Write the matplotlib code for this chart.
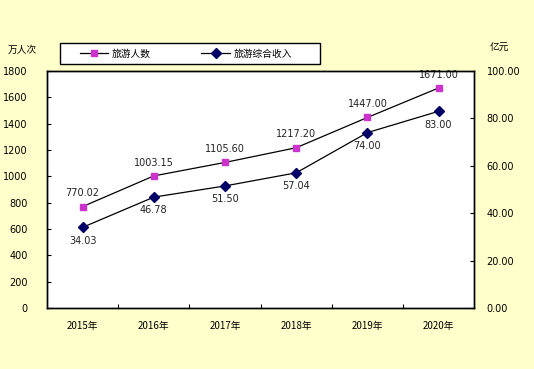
import matplotlib
matplotlib.use("Agg")
import matplotlib.pyplot as plt
from matplotlib.patches import Rectangle

plt.rcParams['font.family'] = ['DejaVu Sans', 'Noto Sans CJK SC']

years = ["2015年", "2016年", "2017年", "2018年", "2019年", "2020年"]
visitors = [770.02, 1003.15, 1105.60, 1217.20, 1447.00, 1671.00]
income = [34.03, 46.78, 51.50, 57.04, 74.00, 83.00]
visitor_labels = ["770.02", "1003.15", "1105.60", "1217.20", "1447.00", "1671.00"]
income_labels = ["34.03", "46.78", "51.50", "57.04", "74.00", "83.00"]
left_ticks = [0, 200, 400, 600, 800, 1000, 1200, 1400, 1600, 1800]
right_ticks = [0, 20, 40, 60, 80, 100]

bg = "#FFFFCC"
magenta = "#CC33CC"
navy = "#000066"
fs = 7

fig = plt.figure(figsize=(5.34, 3.69), dpi=100, facecolor=bg)
ax = fig.add_axes([0.088, 0.1653, 0.800, 0.6423])
ax2 = ax.twinx()

x = list(range(len(years)))
l1, = ax.plot(x, visitors, color="black", lw=0.9, marker="s", markersize=5,
              markerfacecolor=magenta, markeredgecolor=magenta, label="旅游人数")
l2, = ax2.plot(x, income, color="black", lw=0.9, marker="D", markersize=5,
               markerfacecolor=navy, markeredgecolor=navy, label="旅游综合收入")

for xi, v, t in zip(x, visitors, visitor_labels):
    ax.annotate(t, (xi, v), xytext=(0, 6), textcoords="offset points",
                ha="center", va="bottom", fontsize=fs, color="#222222")
for xi, v, t in zip(x, income, income_labels):
    ax2.annotate(t, (xi, v), xytext=(0, -6), textcoords="offset points",
                 ha="center", va="top", fontsize=fs, color="#222222")

ax.set_xlim(-0.5, len(years) - 0.5)
ax.set_ylim(0, 1800)
ax2.set_ylim(0, 100)
ax.set_yticks(left_ticks)
ax.set_yticklabels([str(t) for t in left_ticks])
ax2.set_yticks(right_ticks)
ax2.set_yticklabels([f"{t:.2f}" for t in right_ticks])

ax.set_xticks(x)
ax.set_xticklabels(years, family=['Noto Sans CJK SC'])
ax.set_xticks([i + 0.5 for i in x[:-1]], minor=True)
ax.tick_params(axis="x", which="major", length=0, pad=9, labelsize=fs)
ax.tick_params(axis="x", which="minor", direction="in", length=3, width=0.8)
ax.tick_params(axis="y", direction="in", length=3, width=0.8, labelsize=fs, pad=14)
ax2.tick_params(axis="y", direction="in", length=3, width=0.8, labelsize=fs, pad=9)

ax.set_facecolor("white")
for a in (ax, ax2):
    for s in a.spines.values():
        s.set_linewidth(1.0)
        s.set_color("black")

fig.text(0.015, 0.865, "万人次", fontsize=fs, family=['Noto Sans CJK SC'], va="center")
fig.text(0.935, 0.87, "亿元", fontsize=fs, family=['Noto Sans CJK SC'], ha="center", va="center")

# legend frame
fig.patches.append(Rectangle((0.112, 0.8266), 0.487, 0.057, transform=fig.transFigure,
                             facecolor="white", edgecolor="black", linewidth=1.0, zorder=1))
leg = fig.legend(handles=[l1, l2], loc="center left",
                 bbox_to_anchor=(0.112 + 20 / 534, 0.8266 + 0.0285),
                 ncol=2, frameon=False, handlelength=2.9, handletextpad=0.4,
                 borderaxespad=0, borderpad=0,
                 prop={'family': ['Noto Sans CJK SC'], 'size': fs},
                 columnspacing=5.2)
leg.set_zorder(2)

fig.savefig("out.png", dpi=100, facecolor=bg)
